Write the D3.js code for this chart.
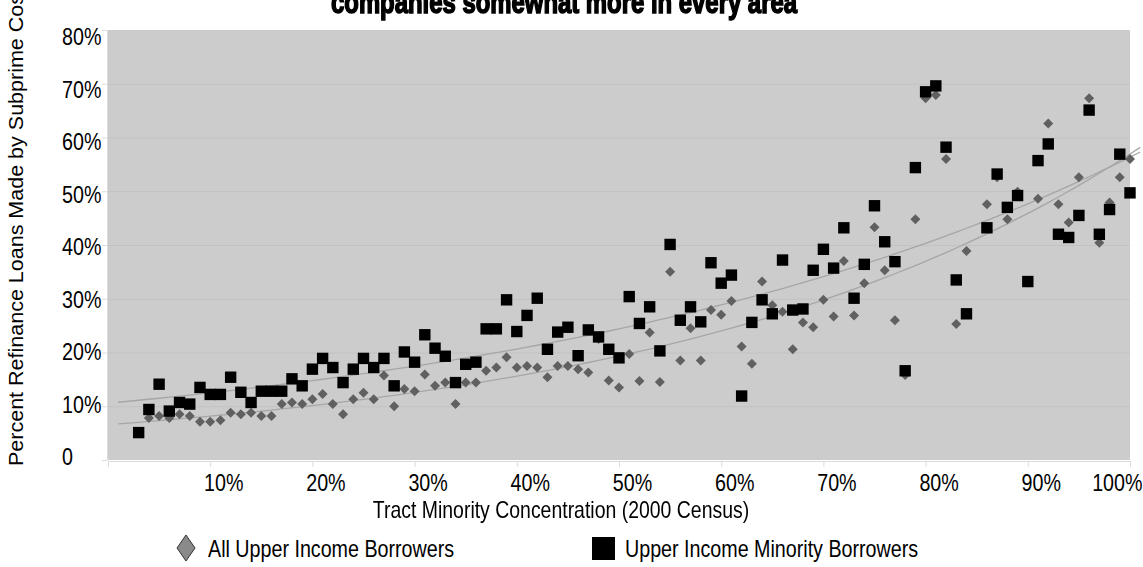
<!DOCTYPE html>
<html>
<head>
<meta charset="utf-8">
<script src="https://cdn.jsdelivr.net/npm/d3@7"></script>
<style>
  body { margin: 0; background: #fff; }
  svg { display: block; }
</style>
</head>
<body>
<svg id="chart" width="1143" height="567"></svg>
<script>
// Tract minority concentration (percent), one point per percentage bucket
const concentration = [
   3,  4,  5,  6,  7,  8,  9, 10, 11, 12, 13, 14, 15, 16, 17, 18, 19, 20,
  21, 22, 23, 24, 25, 26, 27, 28, 29, 30, 31, 32, 33, 34, 35, 36, 37, 38,
  39, 40, 41, 42, 43, 44, 45, 46, 47, 48, 49, 50, 51, 52, 53, 54, 55, 56,
  57, 58, 59, 60, 61, 62, 63, 64, 65, 66, 67, 68, 69, 70, 71, 72, 73, 74,
  75, 76, 77, 78, 79, 80, 81, 82, 83, 84, 86, 87, 88, 89, 90, 91, 92, 93,
  94, 95, 96, 97, 98, 99, 100
];
// Percent of refinance loans made by subprime companies — all upper income borrowers
const allUpper = [
   5.0,  7.8,  8.2,  7.8,  8.5,  8.2,  7.1,  7.1,  7.4,  8.8,  8.5,  8.8,  8.2,  8.2, 10.4, 10.7, 10.4, 11.3,
  12.3, 10.4,  8.5, 11.3, 12.5, 11.3, 15.7, 10.0, 13.2, 12.8, 15.9, 13.8, 14.4, 10.4, 14.4, 14.4, 16.6, 17.2,
  19.1, 17.2, 17.5, 17.2, 15.4, 17.5, 17.5, 16.9, 16.3, 22.5, 14.8, 13.5, 19.7, 14.7, 23.7, 14.5, 35.0, 18.5,
  24.5, 18.5, 27.9, 27.0, 29.6, 21.1, 17.9, 33.2, 28.8, 27.6, 20.6, 25.6, 24.7, 29.8, 26.7, 37.0, 26.9, 32.9,
  43.3, 35.3, 26.0, 15.8, 44.8, 67.3, 67.9, 56.0, 25.3, 38.9, 47.6, 52.6, 44.8, 49.9, 33.0, 48.6, 62.6, 47.6,
  44.2, 52.6, 67.3, 40.4, 47.9, 52.6, 56.0
];
// Same measure for upper income minority borrowers
const minorityUpper = [
   5.1,  9.4, 14.1,  9.1, 10.7, 10.4, 13.5, 12.2, 12.2, 15.4, 12.6, 10.7, 12.8, 12.8, 12.8, 15.1, 13.8, 16.9,
  18.9, 17.2, 14.4, 16.9, 18.9, 17.2, 18.9, 13.8, 20.1, 18.2, 23.3, 20.8, 19.3, 14.4, 17.8, 18.2, 24.4, 24.4,
  29.8, 23.9, 26.9, 30.1, 20.6, 23.8, 24.7, 19.4, 24.2, 22.9, 20.6, 19.0, 30.4, 25.4, 28.5, 20.3, 40.1, 26.0,
  28.5, 25.7, 36.7, 32.9, 34.4, 11.9, 25.6, 29.8, 27.2, 37.2, 27.9, 28.1, 35.3, 39.2, 35.7, 43.2, 30.1, 36.4,
  47.3, 40.6, 36.9, 16.6, 54.4, 68.5, 69.6, 58.2, 33.5, 27.2, 43.2, 53.2, 47.0, 49.2, 33.2, 55.7, 58.8, 42.0,
  41.4, 45.5, 65.1, 42.0, 46.6, 56.9, 49.7
];
const xTickValues = [0, 10, 20, 30, 40, 50, 60, 70, 80, 90, 100];
const yTickValues = [0, 10, 20, 30, 40, 50, 60, 70, 80];
const seriesNames = ["All Upper Income Borrowers", "Upper Income Minority Borrowers"];
const chartTitle = "companies somewhat more in every area";
const xTitle = "Tract Minority Concentration (2000 Census)";
const yTitle = "Percent Refinance Loans Made by Subprime Cos";

const svg = d3.select("#chart");
const plot = { left: 108, right: 1130, top: 30, bottom: 460 };
const sans = "'Liberation Sans', Arial, sans-serif";

const x = d3.scaleLinear().domain([0, 100]).range([plot.left, plot.right]);
const y = d3.scaleLinear().domain([0, 80]).range([plot.bottom, plot.top]);
// tick labels on the value axis sit on a slightly tighter spacing than the grid
const yLabel = d3.scaleLinear().domain([0, 80]).range([456, 36]);

// squeeze text horizontally to a narrow face
function condense(sel, factor) {
  sel.each(function () {
    const w = this.getComputedTextLength();
    if (w > 0) {
      d3.select(this).attr("textLength", w * factor).attr("lengthAdjust", "spacingAndGlyphs");
    }
  });
}

// plot background
svg.append("rect")
  .attr("x", plot.left).attr("y", plot.top)
  .attr("width", plot.right - plot.left).attr("height", plot.bottom - plot.top)
  .attr("fill", "#cccccc");

// horizontal gridlines
svg.append("g")
  .selectAll("line")
  .data(yTickValues.filter(v => v > 0 && v < 80))
  .join("line")
  .attr("x1", plot.left).attr("x2", plot.right)
  .attr("y1", d => y(d) + 0.5).attr("y2", d => y(d) + 0.5)
  .attr("stroke", "#c2c2c2").attr("stroke-width", 1.2);

// category axis
const xAxis = svg.append("g")
  .attr("transform", `translate(0,${plot.bottom + 1})`)
  .call(d3.axisBottom(x).tickValues(xTickValues).tickSize(6).tickSizeOuter(0)
    .tickFormat(d => d === 0 ? "" : d + "%"));
xAxis.select(".domain").attr("stroke", "#dcdcdc");
xAxis.selectAll(".tick line").attr("stroke", "#dcdcdc");
xAxis.selectAll(".tick text")
  .attr("font-family", sans).attr("font-size", 24).attr("fill", "#000")
  .attr("y", 13).attr("dy", "0.71em")
  .call(condense, 0.82)
  .attr("dx", function (d) {
    // keep the last label inside the canvas
    if (d === 100) return (1142 - this.getAttribute("textLength") / 2) - x(d);
    return 13;
  });

// value axis
const yAxis = svg.append("g")
  .attr("transform", `translate(${plot.left - 1},0)`)
  .call(d3.axisLeft(y).tickValues(yTickValues).tickSize(5).tickSizeOuter(0)
    .tickFormat(d => d === 0 ? "0" : d + "%"));
yAxis.select(".domain").attr("stroke", "#dcdcdc");
yAxis.selectAll(".tick line").attr("stroke", "#dcdcdc");
yAxis.selectAll(".tick text")
  .attr("font-family", sans).attr("font-size", 24).attr("fill", "#000")
  .attr("text-anchor", "start")
  .attr("x", 62 - (plot.left - 1))
  .attr("y", d => yLabel(d) - y(d))
  .attr("dy", "0.36em")
  .call(condense, 0.82);

// exponential least-squares trend (fit on log values)
function expFit(xs, ys) {
  const ly = ys.map(Math.log);
  const mx = d3.mean(xs), my = d3.mean(ly);
  const b = d3.sum(xs, (v, i) => (v - mx) * (ly[i] - my)) / d3.sum(xs, v => (v - mx) * (v - mx));
  const a = Math.exp(my - b * mx);
  return v => a * Math.exp(b * v);
}

const trendX = d3.range(1, 101.01, 1);
const line = d3.line().x(d => x(d[0])).y(d => y(d[1]));
[allUpper, minorityUpper].forEach(series => {
  const f = expFit(concentration, series);
  svg.append("path")
    .attr("d", line(trendX.map(v => [v, f(v)])))
    .attr("fill", "none").attr("stroke", "#a6a6a6").attr("stroke-width", 1.3);
});

// soft edges on the markers
svg.append("defs").append("filter").attr("id", "soft")
  .append("feGaussianBlur").attr("stdDeviation", 0.6);

const markers = svg.append("g").attr("filter", "url(#soft)");
markers.selectAll("path.all")
  .data(concentration.map((c, i) => [c, allUpper[i]]))
  .join("path").attr("class", "all")
  .attr("d", d3.symbol(d3.symbolSquare, 50))
  .attr("transform", d => `translate(${x(d[0])},${y(d[1])}) rotate(45)`)
  .attr("fill", "#606060");
markers.selectAll("path.min")
  .data(concentration.map((c, i) => [c, minorityUpper[i]]))
  .join("path").attr("class", "min")
  .attr("d", d3.symbol(d3.symbolSquare, 130))
  .attr("transform", d => `translate(${x(d[0])},${y(d[1])})`)
  .attr("fill", "#000");

// heading (second line; its upper part runs off the top)
svg.append("text")
  .attr("x", 564).attr("y", 13)
  .attr("text-anchor", "middle")
  .attr("font-family", sans).attr("font-weight", 700).attr("font-size", 31)
  .attr("stroke", "#000").attr("stroke-width", 1.6)
  .attr("textLength", 466).attr("lengthAdjust", "spacingAndGlyphs")
  .text(chartTitle);

// axis titles
svg.append("text")
  .attr("x", 561).attr("y", 518)
  .attr("text-anchor", "middle")
  .attr("font-family", sans).attr("font-size", 24)
  .text(xTitle)
  .call(condense, 0.81);

svg.append("text")
  .attr("transform", "translate(23,466) rotate(-90)")
  .attr("font-family", sans).attr("font-size", 20)
  .attr("textLength", 472).attr("lengthAdjust", "spacingAndGlyphs")
  .text(yTitle);

// legend
const legend = svg.append("g");
legend.append("path")
  .attr("d", "M0,-13 L9,0 L0,13 L-9,0 Z")
  .attr("transform", "translate(186,548)")
  .attr("fill", "#8a8a8a").attr("stroke", "#333").attr("stroke-width", 1);
legend.append("text")
  .attr("x", 208).attr("y", 557)
  .attr("font-family", sans).attr("font-size", 24)
  .text(seriesNames[0])
  .call(condense, 0.82);
legend.append("rect")
  .attr("x", 592).attr("y", 537).attr("width", 23).attr("height", 23)
  .attr("fill", "#000");
legend.append("text")
  .attr("x", 625).attr("y", 557)
  .attr("font-family", sans).attr("font-size", 24)
  .text(seriesNames[1])
  .call(condense, 0.82);
</script>
</body>
</html>
